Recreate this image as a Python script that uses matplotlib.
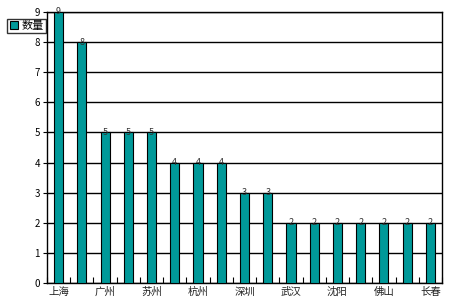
import matplotlib
matplotlib.use("Agg")
import matplotlib.pyplot as plt
import numpy as np

plt.rcParams['font.family'] = ['Noto Sans CJK SC', 'DejaVu Sans']

categories = ['上海', '北京', '广州', '南京', '苏州', '成都', '杭州', '天津', '深圳',
              '重庆', '武汉', '西安', '沈阳', '长沙', '佛山', '青岛', '长春']
values = [9, 8, 5, 5, 5, 4, 4, 4, 3, 3, 2, 2, 2, 2, 2, 2, 2]
series_name = '数量'
yticks = list(range(0, 10))

fig = plt.figure(figsize=(4.49, 3.08), dpi=100)
ax = fig.add_axes([47/449, 1-283/308, 395/449, 271/308])

x = np.arange(len(categories))
bars = ax.bar(x, values, width=0.39, color='#009999', edgecolor='black',
              linewidth=0.8, label=series_name, zorder=3)

for xi, v in zip(x, values):
    ax.text(xi, v, str(v), ha='center', va='center', fontsize=6.5,
            color='#333333', zorder=4)

ax.set_xlim(-0.5, len(categories) - 0.5)
ax.set_ylim(0, 9)
ax.set_yticks(yticks)
ax.set_yticklabels([str(t) for t in yticks], fontsize=7)
ax.yaxis.grid(True, color='black', linewidth=1.0, zorder=0)

# category boundary ticks (inside), labels every other category
ax.set_xticks(np.arange(-0.5, len(categories) + 0.5, 1.0))
ax.set_xticklabels([])
ax.tick_params(axis='x', direction='in', length=4, width=0.8)
ax.set_xticks(x[::2], minor=True)
ax.set_xticklabels(categories[::2], minor=True, fontsize=7.5, color='#222222')
ax.tick_params(axis='x', which='minor', length=0, pad=3)
ax.tick_params(axis='y', direction='out', length=3, width=0.8, pad=2)

for s in ax.spines.values():
    s.set_linewidth(1.0)
    s.set_color('black')

leg = ax.legend(loc='upper left', bbox_to_anchor=(-0.1, 0.975), fontsize=8,
                frameon=True, fancybox=False, edgecolor='black',
                handlelength=0.7, handleheight=0.7, handletextpad=0.4,
                borderpad=0.2, borderaxespad=0)
leg.get_frame().set_linewidth(1.0)
leg.set_zorder(10)

fig.savefig('out.png', dpi=100)
